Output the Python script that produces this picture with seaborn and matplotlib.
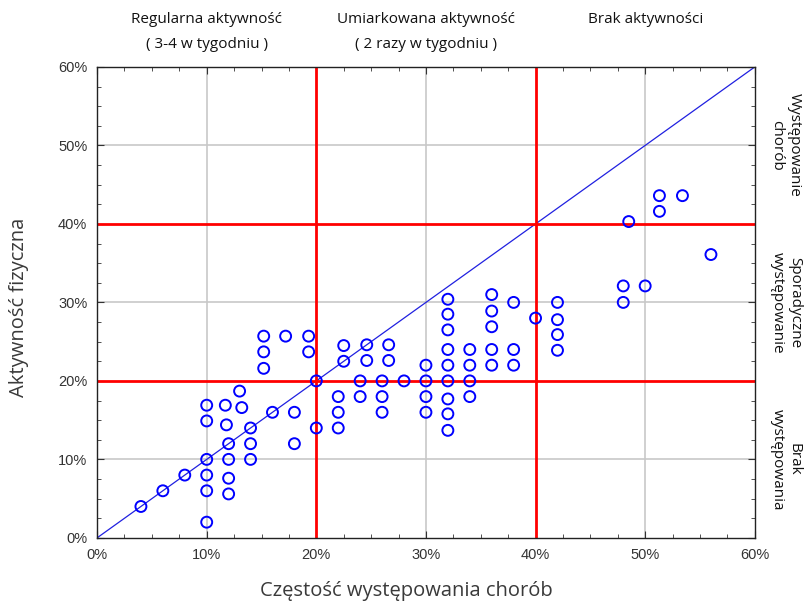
import matplotlib
matplotlib.use("Agg")
import matplotlib.pyplot as plt
from matplotlib.ticker import MultipleLocator, PercentFormatter
import pandas as pd
import seaborn as sns

# data (percent)
choroby = [4, 6, 8, 10, 10, 10, 10, 10, 10, 11.7, 11.8, 12, 12, 12, 12,
           13, 13.2, 14, 14, 14, 15.2, 15.2, 15.2, 16, 17.2, 18, 18, 19.3, 19.3,
           20, 20, 22, 22, 22, 22.5, 22.5, 24, 24, 24.6, 24.6, 26, 26, 26,
           26.6, 26.6, 28, 30, 30, 30, 30,
           32, 32, 32, 32, 32, 32, 32, 32, 32,
           34, 34, 34, 34, 36, 36, 36, 36, 36, 38, 38, 38, 40,
           42, 42, 42, 42, 48, 48, 48.5, 50, 51.3, 51.3, 53.4, 56]
aktywnosc = [4, 6, 8, 10, 8, 6, 2, 14.9, 16.9, 16.9, 14.4, 12, 10, 7.6, 5.6,
             18.7, 16.6, 14, 12, 10, 25.7, 23.7, 21.6, 16, 25.7, 16, 12, 25.7, 23.7,
             20, 14, 18, 16, 14, 24.5, 22.5, 20, 18, 24.6, 22.6, 20, 18, 16,
             24.6, 22.6, 20, 22, 20, 18, 16,
             30.4, 28.5, 26.5, 24, 22, 20, 17.7, 15.8, 13.7,
             24, 22, 20, 18, 31, 28.9, 26.9, 24, 22, 30, 24, 22, 28,
             30, 27.8, 25.9, 23.9, 32.1, 30, 40.3, 32.1, 43.6, 41.6, 43.6, 36.1]

progi = [20, 40]
gorne_opisy = ["Regularna aktywność\n( 3-4 w tygodniu )",
               "Umiarkowana aktywność\n( 2 razy w tygodniu )",
               "Brak aktywności"]
prawe_opisy = ["Występowanie\nchorób", "Sporadyczne\nwystępowanie", "Brak\nwystępowania"]

df = pd.DataFrame({"x": choroby, "y": aktywnosc})

sns.set_style("white")
plt.rcParams["font.family"] = ["Liberation Sans", "DejaVu Sans"]

fig = plt.figure(figsize=(8.09, 6.03), dpi=100)
ax = fig.add_axes([0.12, 0.108, 0.813, 0.781])

ax.set_xlim(0, 60)
ax.set_ylim(0, 60)

# light grid every 10%
for v in [10, 30, 50]:
    ax.axvline(v, color="#c8c8c8", lw=1.2, zorder=0)
    ax.axhline(v, color="#c8c8c8", lw=1.2, zorder=0)

# diagonal
ax.plot([0, 60], [0, 60], color="#2020e0", lw=0.9, zorder=1)

# red thresholds
for p in progi:
    ax.axvline(p, color="#ff0000", lw=2, zorder=2)
    ax.axhline(p, color="#ff0000", lw=2, zorder=2)

sns.scatterplot(data=df, x="x", y="y", ax=ax, s=62, facecolors="none",
                edgecolor="#0000ff", linewidth=1.4, zorder=3, legend=False)

ax.xaxis.set_major_locator(MultipleLocator(10))
ax.yaxis.set_major_locator(MultipleLocator(10))
ax.xaxis.set_minor_locator(MultipleLocator(2.5))
ax.yaxis.set_minor_locator(MultipleLocator(2.5))
ax.xaxis.set_major_formatter(PercentFormatter(decimals=0))
ax.yaxis.set_major_formatter(PercentFormatter(decimals=0))
ax.tick_params(which="both", direction="in", top=True, right=True,
               bottom=True, left=True, color="#333333")
ax.tick_params(which="major", length=5, labelsize=10.5, labelcolor="#333333", pad=7)
ax.tick_params(which="minor", length=3)
for s in ax.spines.values():
    s.set_color("#222222")
    s.set_linewidth(1)

ax.set_xlabel("Częstość występowania chorób", fontsize=14.5, family="Open Sans",
              color="#3a3a3a")
ax.set_ylabel("Aktywność fizyczna", fontsize=14.5, family="Open Sans",
              color="#3a3a3a")
ax.xaxis.set_label_coords(0.47, -0.092)
ax.yaxis.set_label_coords(-0.104, 0.49)

# top descriptions
for xc, txt in zip([10, 30, 50], gorne_opisy):
    ax.text(xc, 1.116, txt, transform=ax.get_xaxis_transform(), ha="center", va="top",
            fontsize=11, family="Open Sans", linespacing=1.85, color="#111111")

# right descriptions
for yc, txt in zip([50, 30, 10], prawe_opisy):
    ax.text(1.047, yc, txt, transform=ax.get_yaxis_transform(), ha="center", va="center",
            rotation=-90, fontsize=11, family="Open Sans", linespacing=1.2,
            color="#111111")

fig.savefig("out.png", dpi=100)
